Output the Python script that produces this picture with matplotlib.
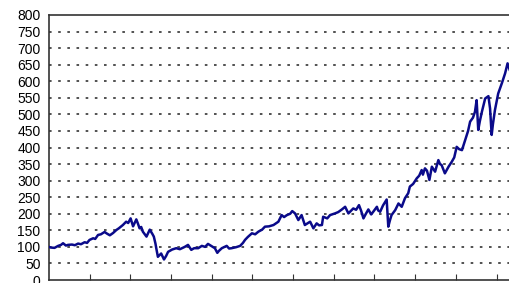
import matplotlib
matplotlib.use("Agg")
import matplotlib.pyplot as plt

# x positions in units of the x-axis tick interval (ticks at 1..11)
t = [0.00, 0.05, 0.14, 0.23, 0.30, 0.35, 0.42, 0.47, 0.57, 0.64, 0.72, 0.79, 0.88, 0.94,
     1.00, 1.09, 1.14, 1.21, 1.28, 1.37, 1.43, 1.50, 1.58, 1.66, 1.72, 1.82, 1.90, 1.95,
     2.01, 2.07, 2.15, 2.19, 2.23, 2.27, 2.31, 2.40, 2.48, 2.54, 2.58, 2.62, 2.64, 2.68,
     2.76, 2.83, 2.88, 2.93, 3.03, 3.13, 3.22, 3.34, 3.42, 3.50, 3.57, 3.67, 3.76, 3.84,
     3.91, 3.99, 4.08, 4.14, 4.18, 4.25, 4.37, 4.43, 4.49, 4.60, 4.70, 4.77, 4.82, 4.89,
     4.99, 5.07, 5.15, 5.24, 5.31, 5.41, 5.52, 5.64, 5.72, 5.78, 5.85, 5.93, 5.98, 6.05,
     6.13, 6.21, 6.29, 6.37, 6.42, 6.50, 6.58, 6.64, 6.71, 6.74, 6.84, 6.91, 7.03, 7.11,
     7.20, 7.28, 7.36, 7.43, 7.48, 7.55, 7.62, 7.67, 7.73, 7.79, 7.85, 7.92, 7.97, 8.06,
     8.09, 8.14, 8.21, 8.30, 8.34, 8.38, 8.42, 8.51, 8.59, 8.67, 8.75, 8.83, 8.87, 8.95,
     9.04, 9.10, 9.16, 9.19, 9.24, 9.29, 9.35, 9.41, 9.49, 9.57, 9.61, 9.65, 9.73, 9.82,
     9.90, 9.96, 10.02, 10.08, 10.15, 10.23, 10.30, 10.35, 10.42, 10.47, 10.51, 10.55,
     10.59, 10.64, 10.72, 10.80, 10.84, 10.88, 10.91, 10.96, 11.04, 11.13, 11.21, 11.27,
     11.32]

values = [100, 98, 97, 103, 106, 111, 104, 106, 107, 105, 110, 108, 114, 112,
          121, 126, 124, 136, 138, 145, 140, 135, 142, 151, 156, 166, 176, 172,
          186, 162, 183, 170, 156, 160, 146, 131, 152, 140, 131, 110, 96, 70,
          80, 62, 72, 85, 92, 96, 93, 100, 106, 91, 96, 96, 103, 100,
          109, 103, 96, 82, 88, 96, 103, 95, 96, 99, 103, 112, 121, 130,
          141, 138, 146, 152, 161, 162, 166, 176, 196, 190, 196, 200, 208, 201,
          181, 196, 166, 172, 176, 156, 171, 165, 166, 191, 186, 196, 201, 205,
          213, 221, 201, 210, 216, 212, 226, 210, 186, 200, 213, 198, 206, 221,
          210, 206, 225, 243, 161, 180, 196, 211, 231, 221, 247, 262, 282, 290,
          307, 315, 332, 318, 337, 330, 302, 342, 327, 362, 350, 347, 322, 342,
          357, 370, 402, 395, 392, 423, 450, 478, 490, 508, 543, 453,
          480, 508, 548, 555, 518, 438, 470, 513, 563, 594, 624, 654,
          635]

y_ticks = list(range(0, 801, 50))
x_ticks = list(range(1, 12))

fig = plt.figure(figsize=(5.10, 2.83), dpi=100)
ax = fig.add_axes([48.8 / 510, 3 / 283, 1 - 48.8 / 510, 265 / 283])

for yv in y_ticks[1:-1]:
    ax.axhline(yv, color="#222222", lw=1.1, linestyle=(0, (1.7, 4.3)), zorder=1)

ax.plot(t, values, color="#0a0a8a", lw=1.8, zorder=3)

ax.set_xlim(0, 11.33)
ax.set_ylim(0, 800)
ax.set_yticks(y_ticks)
ax.set_yticklabels([str(v) for v in y_ticks], fontsize=10, family="Liberation Sans")
ax.set_xticks(x_ticks)
ax.set_xticklabels([])
ax.tick_params(axis="y", length=0, pad=6)
ax.tick_params(axis="x", direction="in", length=4, width=0.8, color="#333333")

for s in ["left", "bottom", "top"]:
    ax.spines[s].set_color("#333333")
    ax.spines[s].set_linewidth(1.2)
ax.spines["right"].set_visible(False)

fig.savefig("out.png", dpi=100)
